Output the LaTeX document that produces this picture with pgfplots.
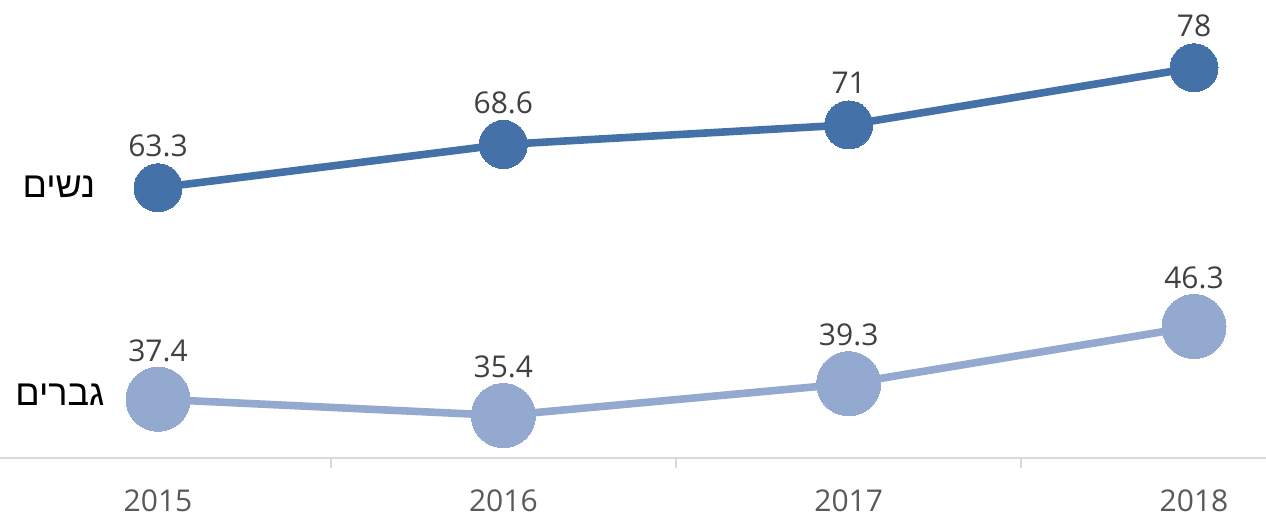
\documentclass[border=0pt]{standalone}
\usepackage{fontspec}
\usepackage{pgfplots}
\pgfplotsset{compat=1.18}
\setmainfont{Open Sans}
\newfontfamily\hebfont[Script=Hebrew]{Liberation Sans}
\TeXXeTstate=1
\definecolor{dblue}{HTML}{4472A8}
\definecolor{lblue}{HTML}{94A9D0}
\definecolor{axgray}{HTML}{D9D9D9}
\definecolor{lbl}{HTML}{404040}
\definecolor{tkl}{HTML}{595959}
\begin{document}
\begin{tikzpicture}
\begin{axis}[
  scale only axis,
  width=633pt, height=229pt,
  xmin=-0.4576, xmax=3.2085,
  ymin=30.2, ymax=86.3,
  axis y line=none,
  axis x line*=bottom,
  x axis line style={draw=axgray, line width=1pt, -},
  xtick={0,1,2,3},
  xticklabels={2015,2016,2017,2018},
  major tick length=0pt,
  minor xtick={0.5,1.5,2.5},
  minor tick length=5pt,
  tick align=outside,
  minor tick style={draw=axgray, line width=1pt},
  xticklabel style={font=\fontsize{15}{18}\selectfont, text=tkl, anchor=base, yshift=-27pt},
  /pgf/number format/assume math mode=true,
  clip=false,
  nodes near coords,
  every node near coord/.append style={font=\fontsize{15}{18}\selectfont, text=lbl, anchor=base},
  point meta=explicit symbolic,
]
\addplot[color=dblue, line width=3.8pt, mark=*, mark size=12pt, mark options={fill=dblue, draw=dblue, line width=0pt},
  every node near coord/.append style={yshift=15.5pt}]
  coordinates {(0,63.3)[63.3] (1,68.6)[68.6] (2,71)[71] (3,78)[78]};
\addplot[color=lblue, line width=3.8pt, mark=*, mark size=16pt, mark options={fill=lblue, draw=lblue, line width=0pt},
  every node near coord/.append style={yshift=19pt}]
  coordinates {(0,37.4)[37.4] (1,35.4)[35.4] (2,39.3)[39.3] (3,46.3)[46.3]};
\node[font=\hebfont\fontsize{18}{21}\selectfont, text=black] at (axis cs:-0.287,63.42) {\beginR נשים\endR};
\node[font=\hebfont\fontsize{18}{21}\selectfont, text=black] at (axis cs:-0.284,37.94) {\beginR גברים\endR};
\end{axis}
\pgfresetboundingbox
\path (0,-33pt) rectangle (633pt,229pt);
\end{tikzpicture}
\end{document}
